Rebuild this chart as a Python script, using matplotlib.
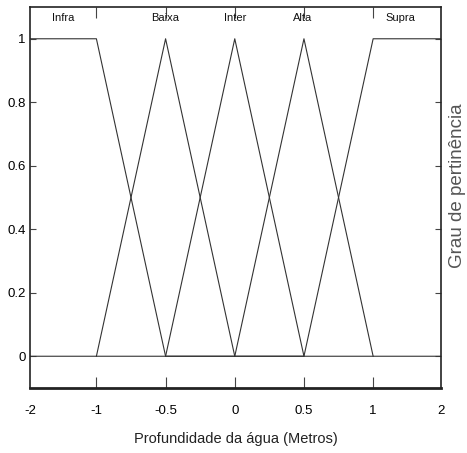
import matplotlib.pyplot as plt

# limites do eixo (as pontas sao rotuladas -2 e 2)
x_min, x_max = -1.48, 1.49

# funcoes de pertinencia: pontos (x, grau)
infra_x = [x_min, -1.0, -0.5, x_max]
infra_y = [1, 1, 0, 0]
baixa_x = [-1.0, -0.5, 0.0]
baixa_y = [0, 1, 0]
inter_x = [-0.5, 0.0, 0.5]
inter_y = [0, 1, 0]
alta_x = [0.0, 0.5, 1.0]
alta_y = [0, 1, 0]
supra_x = [x_min, 0.5, 1.0, x_max]
supra_y = [0, 0, 1, 1]

nomes = ['Infra', 'Baixa', 'Inter', 'Alta', 'Supra']
nomes_x = [-1.24, -0.5, 0.0, 0.49, 1.2]

xticks = [x_min, -1, -0.5, 0, 0.5, 1, x_max]
xtick_labels = ['-2', '-1', '-0.5', '0', '0.5', '1', '2']
yticks = [0, 0.2, 0.4, 0.6, 0.8, 1]
ytick_labels = ['0', '0.2', '0.4', '0.6', '0.8', '1']

fonte = ['Liberation Sans', 'DejaVu Sans']

fig = plt.figure(figsize=(4.67, 4.53), dpi=100)
ax = fig.add_axes([0.0642, 0.1435, 0.880, 0.841])

cor = '#333333'
for xs, ys in [(infra_x, infra_y), (baixa_x, baixa_y), (inter_x, inter_y),
               (alta_x, alta_y), (supra_x, supra_y)]:
    ax.plot(xs, ys, color=cor, lw=0.8)

for nome, xn in zip(nomes, nomes_x):
    ax.text(xn, 1.065, nome, ha='center', va='center', fontsize=8,
            family=fonte, color='#111111')

ax.set_xlim(x_min, x_max)
ax.set_ylim(-0.1, 1.1)

ax.set_xticks(xticks)
ax.set_xticklabels(xtick_labels, family=fonte, fontsize=9.5)
ax.set_yticks(yticks)
ax.set_yticklabels(ytick_labels, family=fonte, fontsize=9.5)
ax.tick_params(axis='both', direction='in', top=True, right=True,
               color='#444444', width=0.8)
ax.tick_params(axis='x', length=8, pad=12)
ax.tick_params(axis='y', length=4, pad=3)
# sem marcas nas pontas do eixo x
for t in [ax.xaxis.get_major_ticks()[0], ax.xaxis.get_major_ticks()[-1]]:
    t.tick1line.set_visible(False)
    t.tick2line.set_visible(False)

for lado, sp in ax.spines.items():
    sp.set_color('#222222')
    sp.set_linewidth(1.2)
ax.spines['bottom'].set_linewidth(2.0)

ax.set_xlabel('Profundidade da água (Metros)', family=fonte, fontsize=10.5,
              labelpad=11, color='#222222')
fig.text(0.979, 0.59, 'Grau de pertinência', rotation=90, ha='center',
         va='center', fontsize=13.5, family=fonte, color='#555555')

fig.savefig('out.png', dpi=100)
